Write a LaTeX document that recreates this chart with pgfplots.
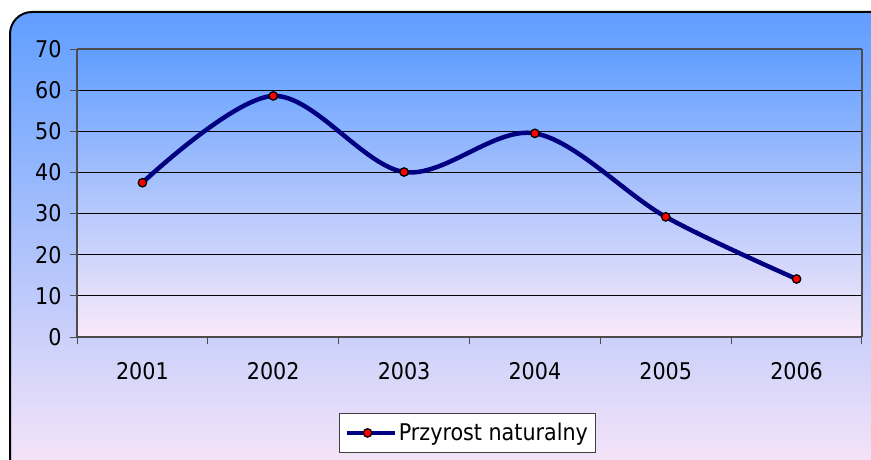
\documentclass[border=0pt]{standalone}
\usepackage{pgfplots}
\pgfplotsset{compat=1.18}
\usepackage{fontspec}
\setmainfont{DejaVu Sans Condensed}
\definecolor{bgtop}{RGB}{96,158,255}
\definecolor{bgmid}{RGB}{160,198,245}
\definecolor{bgbot}{RGB}{250,230,248}
\definecolor{patop}{RGB}{96,158,255}
\definecolor{pamid}{RGB}{145,196,250}
\definecolor{pabot}{RGB}{250,234,250}
\definecolor{navy}{RGB}{0,0,128}
\begin{document}
\begin{tikzpicture}
\useasboundingbox (0pt,0pt) rectangle (871pt,459pt);
\begin{scope}
\clip (0pt,0pt) rectangle (871pt,459pt);
\fill[white] (0pt,0pt) rectangle (871pt,459pt);
\shade[top color=bgtop, middle color=bgmid, bottom color=bgbot, rounded corners=22pt] (10pt,-20pt) rectangle (895pt,447pt);
\draw[black, line width=2pt, rounded corners=22pt] (10pt,-20pt) rectangle (895pt,447pt);
\end{scope}
\shade[top color=patop, middle color=pamid, bottom color=pabot] (77pt,122pt) rectangle (862pt,410pt);
\begin{axis}[
  at={(77pt,122pt)}, anchor=south west,
  width=785pt, height=288pt, scale only axis,
  xmin=0.5, xmax=6.5, ymin=0, ymax=70,
  xtick={0.5,1.5,...,6.5}, xticklabels={},
  extra x ticks={1,2,3,4,5,6},
  extra x tick labels={2001,2002,2003,2004,2005,2006},
  extra x tick style={major tick length=0pt, tick label style={yshift=-22pt}},
  ytick={0,10,...,70},
  xtick pos=left, ytick pos=left,
  ymajorgrids, grid style={black, line width=0.8pt},
  tick align=outside, major tick length=7pt,
  tick style={draw=black!70, line width=1pt},
  axis line style={draw=black!55, line width=1.3pt},
  separate axis lines,
  x axis line style={draw=black!70},
  y axis line style={draw=black!70},
  yticklabel style={xshift=-5pt},
  tick label style={font=\fontsize{23}{27}\selectfont},
  /pgf/number format/assume math mode=true,
  legend style={at={(0.497,-0.264)}, anchor=north, draw=black!75, line width=0.8pt, fill=white,
     font=\fontsize{23}{27}\selectfont, inner xsep=5pt, inner ysep=8pt},
  legend image code/.code={\draw[#1, mark=none] (0pt,0pt) -- (48pt,0pt);
     \draw[#1, only marks] plot coordinates {(21pt,0pt)};},
]
\addplot[color=navy, line width=4.5pt, smooth, tension=0.55, mark=*, mark size=4.2pt,
  mark options={fill=red, draw=black, line width=1.3pt, solid}]
  coordinates {(1,37.5) (2,58.6) (3,40.1) (4,49.5) (5,29.2) (6,14.1)};
\addlegendentry{Przyrost naturalny}
\end{axis}
\end{tikzpicture}
\end{document}
